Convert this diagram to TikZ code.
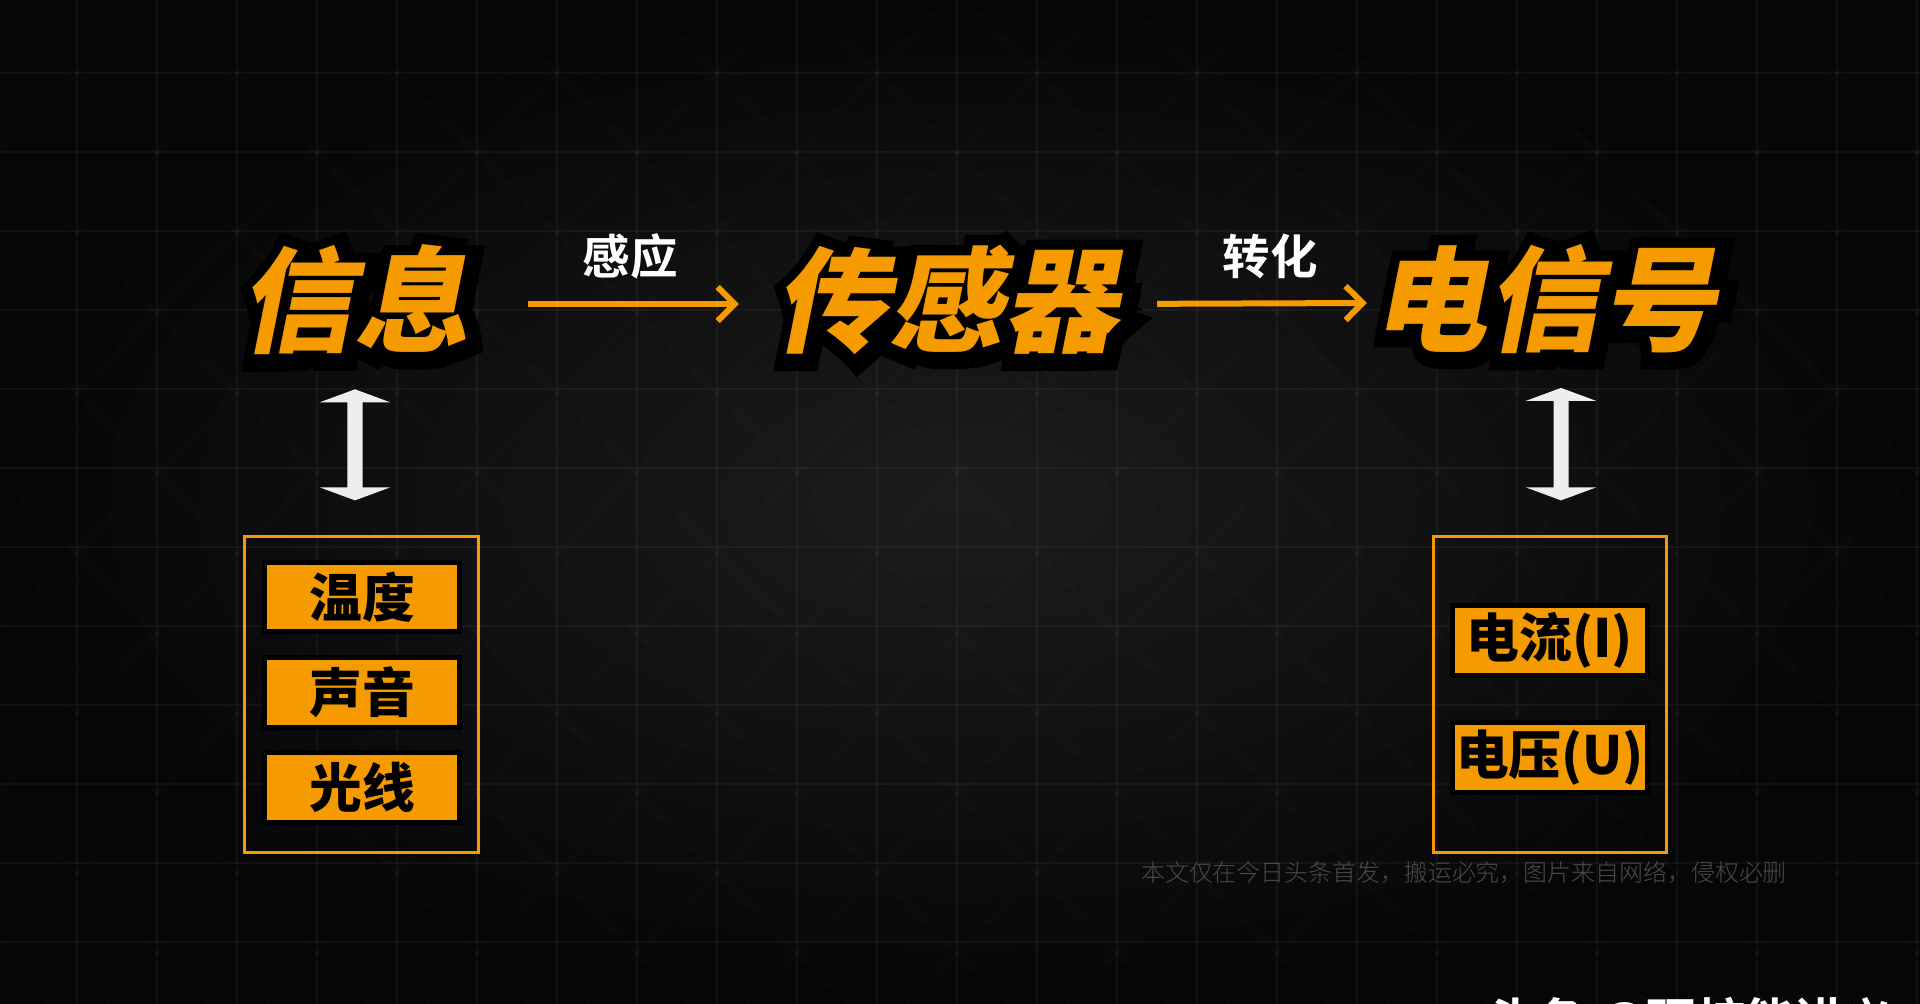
\documentclass[tikz,border=0pt]{standalone}
\usepackage{fontspec}
\usepackage{xcolor}
\usetikzlibrary{arrows.meta}

\newfontfamily\titlefont{Noto Sans CJK SC Black}[FakeSlant=0.2]
\newfontfamily\titleedgefont{Noto Sans CJK SC Black}[FakeSlant=0.2,FakeBold=24]
\newfontfamily\labelfont{Noto Sans CJK SC Bold}
\newfontfamily\tagfont{Noto Sans CJK SC Black}
\newfontfamily\notefont{Noto Sans CJK SC Light}

\definecolor{signorange}{HTML}{F59B00}
\definecolor{arrowwhite}{HTML}{EEEEEE}
\definecolor{bgmid}{HTML}{1C1C1C}
\definecolor{bgedge}{HTML}{060606}
\definecolor{notegray}{HTML}{4A4A4A}

\tikzset{
  bigword/.style={inner sep=0pt, text=signorange, font=\titlefont\fontsize{32.5}{32.5}\selectfont},
  bigedge/.style={inner sep=0pt, text=black, font=\titleedgefont\fontsize{32.5}{32.5}\selectfont},
  verb/.style={inner sep=0pt, text=white, font=\labelfont\fontsize{13.5}{13.5}\selectfont},
  flow/.style={draw=signorange, line width=0.06cm, -{Straight Barb[length=0.17cm, width=0.34cm]}},
  bothway/.style={draw=arrowwhite, line width=0.15cm,
    {Triangle[length=0.13cm, width=0.7cm]}-{Triangle[length=0.13cm, width=0.7cm]}},
  groupbox/.style={draw=signorange, line width=0.03cm, minimum width=2.33cm, minimum height=3.15cm},
  tag/.style={fill=signorange, draw=black, line width=0.05cm, minimum width=1.95cm,
    minimum height=0.69cm, inner sep=0pt, text=black, font=\tagfont\fontsize{15}{15}\selectfont},
  gridline/.style={white, opacity=0.045, line width=0.02cm},
}

\begin{document}
\begin{tikzpicture}[x=0.01cm, y=-0.01cm]
    % Background
    \useasboundingbox (0,0) rectangle (1920,1004);
    \shade[inner color=bgmid, outer color=bgedge] (0,0) rectangle (1920,1004);
    \begin{scope}
        \clip (0,0) rectangle (1920,1004);
        \foreach \gx in {77,157,...,1917}
            \draw[gridline] (\gx,0) -- (\gx,1004);
        \foreach \gy in {73,152,...,1004}
            \draw[gridline] (0,\gy) -- (1920,\gy);
        \foreach \c in {-1116,-956,...,1924}
            \draw[gridline, opacity=0.025] (\c,0) -- (\c+1004,1004);
        \foreach \c in {-10,150,...,2950}
            \draw[gridline, opacity=0.025] (\c,0) -- (\c-1004,1004);
    \end{scope}

    % Title row
    \node[bigedge] at (357,303) {信息};
    \node[bigword] (info) at (354,300) {信息};
    \node[bigedge] at (949,303) {传感器};
    \node[bigword] (sensor) at (946,300) {传感器};
    \node[bigedge] at (1547,302) {电信号};
    \node[bigword] (signal) at (1544,299) {电信号};

    \node[verb] (sense) at (630,256) {感应};
    \node[verb] (convert) at (1270,256) {转化};

    \draw[flow, shorten <=0.59cm, shorten >=0.35cm]
        ([yshift=-0.04cm]info.east) -- ([yshift=-0.04cm]sensor.west);
    \draw[flow, shorten <=0.39cm, shorten >=0.05cm]
        ([yshift=-0.04cm]sensor.east) -- ([yshift=-0.04cm]signal.west);

    % Left group
    \node[groupbox] (infobox) at (361.5,694.5) {};
    \node[tag] (temp) at (362,597) {温度};
    \node[tag] (sound) at (362,692.5) {声音};
    \node[tag] (light) at (362,787.5) {光线};

    % Right group
    \node[groupbox] (sigbox) at (1550,694.5) {};
    \node[tag] (current) at (1550,640.5) {电流(I)};
    \node[tag] (voltage) at (1550,757.5) {电压(U)};

    \draw[bothway, shorten <=0.335cm, shorten >=0.35cm]
        ([xshift=0.01cm]info.south) -- ([xshift=-0.065cm]infobox.north);
    \draw[bothway, shorten <=0.335cm, shorten >=0.35cm]
        ([xshift=0.17cm]signal.south) -- ([xshift=0.11cm]sigbox.north);

    % Notes
    \node[text=notegray, inner sep=0pt, font=\notefont\fontsize{6.8}{6.8}\selectfont] (note)
        at (1464,872) {本文仅在今日头条首发，搬运必究，图片来自网络，侵权必删};
    \node[anchor=base west, inner sep=0pt, text=white, font=\labelfont\fontsize{14}{14}\selectfont] (brand)
        at (1487,1040) {头条 @硬核能讲义};
\end{tikzpicture}
\end{document}
